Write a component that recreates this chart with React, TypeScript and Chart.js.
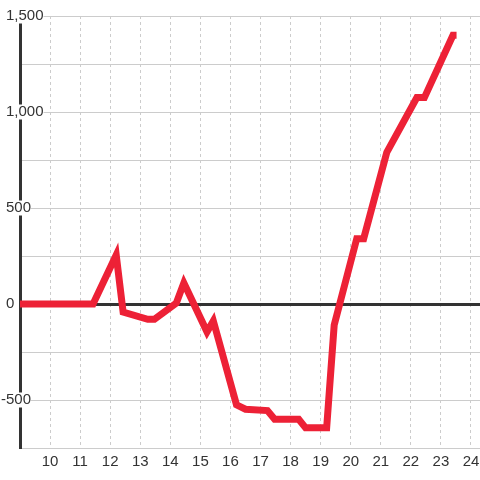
import React, { useEffect, useRef } from "react";
import { Chart, registerables } from "chart.js";

Chart.register(...registerables);

const xValues = [8.5, 11.43, 12.2, 12.43, 13.25, 13.47, 14.2, 14.45, 15.22, 15.43, 16.2, 16.5, 17.23, 17.47, 18.27, 18.5, 19.2, 19.45, 20.2, 20.43, 21.2, 22.2, 22.45, 23.4, 23.52];
const yValues = [0, 0, 255, -42, -80, -80, 5, 110, -145, -88, -525, -548, -555, -600, -600, -645, -645, -110, 340, 340, 790, 1075, 1075, 1400, 1400];
const xTicks = [10, 11, 12, 13, 14, 15, 16, 17, 18, 19, 20, 21, 22, 23, 24];
const yTicks = [-750, -500, -250, 0, 250, 500, 750, 1000, 1250, 1500];
const yLabelValues = [-500, 0, 500, 1000, 1500];

const RED = "#ED2136";
const TEXT = "#333333";
const FONT = "'Liberation Sans', Arial, sans-serif";

export default function App() {
  const ref = useRef<HTMLCanvasElement | null>(null);
  useEffect(() => {
    if (!ref.current) return;
    const chart = new Chart(ref.current, {
      type: "line",
      data: {
        datasets: [
          {
            data: xValues.map((x, i) => ({ x, y: yValues[i] })),
            borderColor: RED,
            borderWidth: 7,
            pointRadius: 0,
            tension: 0,
            fill: false,
          },
        ],
      },
      options: {
        animation: false,
        responsive: false,
        layout: { padding: { top: 16, left: 0, right: 0, bottom: 0 } },
        plugins: { legend: { display: false }, tooltip: { enabled: false } },
        scales: {
          x: {
            type: "linear",
            min: 9,
            max: 24.3,
            afterBuildTicks: (s: any) => {
              s.ticks = xTicks.map((v) => ({ value: v }));
            },
            afterFit: (s: any) => {
              s.height = 32;
              s.paddingLeft = 0;
              s.paddingRight = 0;
            },
            border: { display: false, dash: [3, 3] },
            grid: {
              color: "#cccccc",
              lineWidth: 1,
              drawTicks: false,
            },
            ticks: {
              color: TEXT,
              font: { family: FONT, size: 15, lineHeight: 1 },
              padding: 6,
              maxRotation: 0,
              autoSkip: false,
            },
          },
          y: {
            type: "linear",
            min: -750,
            max: 1500,
            afterBuildTicks: (s: any) => {
              s.ticks = yTicks.map((v) => ({ value: v }));
            },
            afterFit: (s: any) => {
              s.width = 20;
              s.paddingTop = 0;
              s.paddingBottom = 0;
            },
            border: { display: true, color: "#333333", width: 3 },
            grid: {
              drawTicks: false,
              color: (ctx: any) => (ctx.tick && ctx.tick.value === 0 ? "#333333" : "#cccccc"),
              lineWidth: (ctx: any) => (ctx.tick && ctx.tick.value === 0 ? 3 : 1),
            },
            ticks: {
              mirror: true,
              padding: -19,
              color: TEXT,
              font: { family: FONT, size: 15, lineHeight: 1 },
              showLabelBackdrop: true,
              backdropColor: "#ffffff",
              backdropPadding: 0,
              callback: (v: any) => {
                const n = Number(v);
                if (!yLabelValues.includes(n)) return "";
                const s = Math.abs(n).toLocaleString("en-US");
                return n < 0 ? "-" + s : "\u2004" + s;
              },
            },
          },
        },
      },
    });
    return () => chart.destroy();
  }, []);
  return (
    <div style={{ position: "absolute", left: 0, top: 0, width: 480, height: 480, background: "#ffffff" }}>
      <canvas ref={ref} width={480} height={480} />
    </div>
  );
}
